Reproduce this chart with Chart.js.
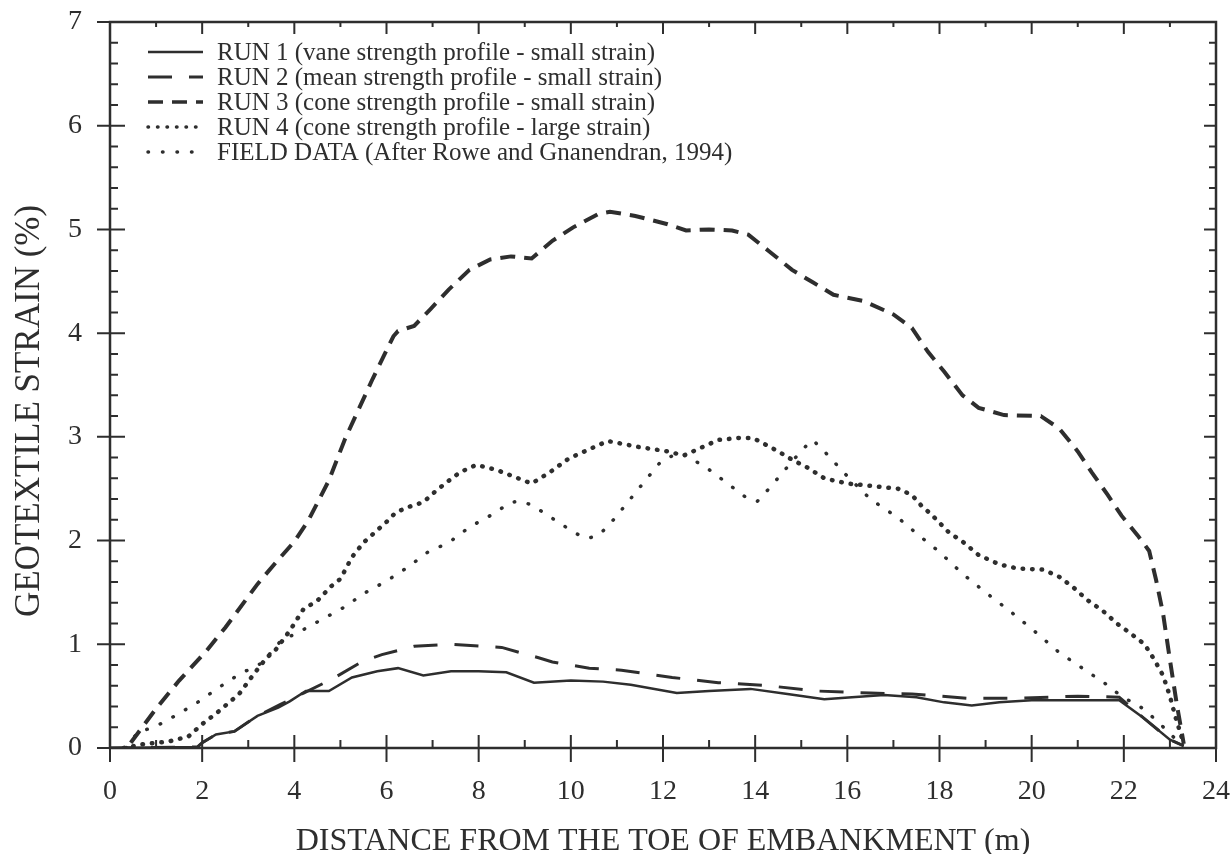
<!DOCTYPE html>
<html>
<head>
<meta charset="utf-8">
<script src="https://cdn.jsdelivr.net/npm/chart.js@4"></script>
<style>
  body { margin: 0; background: #fff; }
  canvas { display: block; }
</style>
</head>
<body>
<canvas id="chart" width="1230" height="854"></canvas>
<script>
// Data (x = distance in m, y = strain in %)
const run1X = [0, 1.9, 2.0, 2.3, 2.7, 3.2, 3.65, 3.9, 4.25, 4.75, 5.25, 5.8, 6.25, 6.8, 7.4, 8.0, 8.6, 9.2, 10.0, 10.7, 11.3, 12.3, 13.0, 13.9, 14.7, 15.5, 16.1, 16.8, 17.5, 18.1, 18.7, 19.3, 20.0, 21.0, 21.9, 22.4, 23.0, 23.3];
const run1Y = [0, 0.01, 0.05, 0.13, 0.16, 0.31, 0.39, 0.45, 0.55, 0.55, 0.68, 0.74, 0.77, 0.7, 0.74, 0.74, 0.73, 0.63, 0.65, 0.64, 0.61, 0.53, 0.55, 0.57, 0.52, 0.47, 0.49, 0.51, 0.49, 0.44, 0.41, 0.44, 0.46, 0.46, 0.46, 0.3, 0.08, 0.02];

const run2X = [0, 1.9, 2.0, 2.3, 2.7, 3.2, 3.7, 4.2, 4.8, 5.5, 5.9, 6.6, 7.4, 8.5, 9.3, 9.6, 10.4, 11.1, 12.2, 13.2, 14.3, 15.3, 16.5, 17.4, 18.6, 19.7, 21.0, 21.9, 22.4, 23.0, 23.3];
const run2Y = [0, 0.01, 0.05, 0.13, 0.16, 0.31, 0.42, 0.53, 0.66, 0.84, 0.9, 0.98, 1.0, 0.97, 0.87, 0.83, 0.77, 0.75, 0.68, 0.63, 0.6, 0.55, 0.53, 0.52, 0.48, 0.48, 0.5, 0.49, 0.3, 0.08, 0.02];

const run3X = [0.45, 1.0, 1.5, 2.1, 2.5, 3.2, 3.6, 4.0, 4.3, 4.75, 5.1, 5.7, 6.15, 6.25, 6.6, 6.95, 7.35, 7.8, 8.25, 8.7, 9.15, 9.6, 10.05, 10.6, 10.85, 11.4, 12.1, 12.5, 13.0, 13.5, 13.85, 14.3, 14.8, 15.25, 15.7, 16.35, 17.0, 17.4, 17.75, 18.1, 18.5, 18.85, 19.4, 20.2, 20.6, 21.0, 21.3, 21.65, 21.95, 22.3, 22.55, 22.7, 22.85, 23.0, 23.15, 23.3];
const run3Y = [0.05, 0.38, 0.65, 0.94, 1.16, 1.58, 1.79, 1.99, 2.19, 2.58, 2.98, 3.56, 3.97, 4.02, 4.07, 4.23, 4.42, 4.61, 4.71, 4.74, 4.72, 4.89, 5.02, 5.15, 5.17, 5.13, 5.05, 4.99, 5.0, 4.99, 4.95, 4.79, 4.61, 4.49, 4.37, 4.31, 4.18, 4.05, 3.82, 3.63, 3.4, 3.28, 3.21, 3.2, 3.08, 2.86, 2.66, 2.44, 2.24, 2.05, 1.9, 1.62, 1.3, 0.85, 0.42, 0.04];

const run4X = [0.3, 0.75, 1.25, 1.7, 2.0, 2.35, 2.8, 3.15, 3.4, 3.6, 3.9, 4.2, 4.5, 4.8, 5.0, 5.25, 5.5, 5.75, 6.0, 6.2, 6.45, 6.8, 7.05, 7.3, 7.6, 7.95, 8.4, 8.8, 9.15, 9.55, 9.95, 10.4, 10.8, 11.15, 11.5, 12.1, 12.45, 12.85, 13.2, 13.65, 13.95, 14.25, 14.5, 14.8, 15.15, 15.5, 16.0, 16.45, 17.1, 17.4, 17.6, 17.85, 18.2, 18.5, 18.85, 19.3, 19.7, 20.25, 20.6, 20.9, 21.2, 21.55, 21.85, 22.1, 22.45, 22.65, 22.85, 23.0, 23.12, 23.3];
const run4Y = [0, 0.04, 0.06, 0.11, 0.23, 0.35, 0.52, 0.73, 0.87, 0.95, 1.13, 1.34, 1.42, 1.56, 1.63, 1.84, 1.98, 2.08, 2.18, 2.27, 2.32, 2.37, 2.47, 2.56, 2.66, 2.73, 2.68, 2.61, 2.55, 2.66, 2.79, 2.88, 2.96, 2.93, 2.9, 2.86, 2.82, 2.9, 2.97, 2.99, 2.99, 2.92, 2.86, 2.78, 2.7, 2.6, 2.55, 2.53, 2.5, 2.44, 2.34, 2.24, 2.08, 1.99, 1.86, 1.77, 1.73, 1.72, 1.65, 1.55, 1.43, 1.32, 1.2, 1.12, 1.0, 0.86, 0.7, 0.5, 0.3, 0.04];

const fieldX = [0.35, 0.6, 1.0, 1.45, 1.9, 2.35, 2.8, 3.3, 3.7, 4.15, 4.6, 5.05, 5.55, 6.0, 6.45, 6.9, 7.35, 7.8, 8.25, 8.7, 8.95, 9.2, 9.65, 10.1, 10.35, 10.6, 10.85, 11.2, 11.6, 11.95, 12.3, 12.5, 12.95, 13.4, 13.85, 14.05, 14.3, 14.7, 15.05, 15.25, 15.5, 16.0, 16.5, 17.1, 17.5, 18.0, 18.5, 19.0, 19.5, 20.0, 20.6, 21.1, 21.6, 22.0, 22.3, 22.7, 23.25];
const fieldY = [0, 0.15, 0.21, 0.32, 0.44, 0.58, 0.71, 0.82, 1.03, 1.13, 1.24, 1.35, 1.5, 1.61, 1.74, 1.89, 1.98, 2.13, 2.24, 2.37, 2.38, 2.33, 2.2, 2.07, 2.02, 2.05, 2.16, 2.35, 2.57, 2.76, 2.84, 2.82, 2.7, 2.55, 2.4, 2.38, 2.5, 2.71, 2.89, 2.97, 2.86, 2.62, 2.4, 2.22, 2.07, 1.89, 1.68, 1.5, 1.33, 1.15, 0.92, 0.77, 0.62, 0.48, 0.42, 0.27, 0.03];

const labels = [
  'RUN 1 (vane strength profile - small strain)',
  'RUN 2 (mean strength profile - small strain)',
  'RUN 3 (cone strength profile - small strain)',
  'RUN 4 (cone strength profile - large strain)',
  'FIELD DATA (After Rowe and Gnanendran, 1994)'
];
const xTicks = [0, 2, 4, 6, 8, 10, 12, 14, 16, 18, 20, 22, 24];
const yTicks = [0, 1, 2, 3, 4, 5, 6, 7];
const yTitle = 'GEOTEXTILE STRAIN (%)';

const ink = '#2e2e2e';
const serif = "'Liberation Serif', 'Times New Roman', serif";

function pts(xs, ys) {
  return xs.map((x, i) => ({ x: x, y: ys[i] }));
}

function serie(label, xs, ys, width, dash, cap) {
  return {
    label: label,
    data: pts(xs, ys),
    borderColor: ink,
    borderWidth: width,
    borderDash: dash,
    borderCapStyle: cap,
    pointRadius: 0,
    tension: 0,
    fill: false
  };
}

// frame with inward ticks on all four sides, plus the vertical axis title
const frame = {
  id: 'frame',
  afterDraw(chart) {
    const { ctx, chartArea: a, scales: { x, y } } = chart;
    ctx.save();
    ctx.strokeStyle = ink;
    ctx.lineWidth = 2.5;
    ctx.strokeRect(a.left, a.top, a.right - a.left, a.bottom - a.top);
    ctx.lineWidth = 2;
    ctx.beginPath();
    for (let v = 0; v <= 24; v++) {
      const px = x.getPixelForValue(v);
      const major = v % 2 === 0;
      ctx.moveTo(px, a.bottom + (major ? 14 : 0));
      ctx.lineTo(px, a.bottom - (major ? 13 : 8));
      ctx.moveTo(px, a.top);
      ctx.lineTo(px, a.top + (major ? 12 : 5));
    }
    for (let i = 0; i <= 35; i++) {
      const py = y.getPixelForValue(i / 5);
      const major = i % 5 === 0;
      ctx.moveTo(a.left - (major ? 13 : 0), py);
      ctx.lineTo(a.left + (major ? 15 : 8), py);
      ctx.moveTo(a.right, py);
      ctx.lineTo(a.right - (major ? 12 : 7), py);
    }
    ctx.stroke();

    // y title sits a bit below the middle of the axis in the original
    ctx.translate(30, y.getPixelForValue(3.25));
    ctx.rotate(-Math.PI / 2);
    ctx.font = '35px ' + serif;
    ctx.fillStyle = ink;
    ctx.textAlign = 'center';
    ctx.textBaseline = 'middle';
    ctx.fillText(yTitle, 0, 0);
    ctx.restore();
  }
};

// legend in the upper left corner of the plot
const legendBox = {
  id: 'legendBox',
  afterDraw(chart) {
    const { ctx, chartArea: a } = chart;
    ctx.save();
    ctx.font = '25px ' + serif;
    ctx.textBaseline = 'middle';
    ctx.fillStyle = ink;
    chart.data.datasets.forEach((ds, i) => {
      const yy = a.top + 30 + i * 25;
      ctx.save();
      ctx.strokeStyle = ds.borderColor;
      ctx.lineWidth = Math.min(ds.borderWidth, 3.5);
      ctx.setLineDash(ds.borderDash);
      ctx.lineCap = ds.borderCapStyle;
      ctx.beginPath();
      ctx.moveTo(a.left + 38, yy);
      ctx.lineTo(a.left + 93, yy);
      ctx.stroke();
      ctx.restore();
      ctx.fillText(ds.label, a.left + 107, yy + 1);
    });
    ctx.restore();
  }
};

const ctx = document.getElementById('chart').getContext('2d');
new Chart(ctx, {
  type: 'line',
  data: {
    datasets: [
      serie(labels[0], run1X, run1Y, 2.5, [], 'butt'),
      serie(labels[1], run2X, run2Y, 3, [24, 17], 'butt'),
      serie(labels[2], run3X, run3Y, 4, [15, 9], 'butt'),
      serie(labels[3], run4X, run4Y, 4.5, [0.5, 9], 'round'),
      serie(labels[4], fieldX, fieldY, 3.5, [0.5, 14], 'round')
    ]
  },
  options: {
    responsive: false,
    animation: false,
    layout: { padding: { top: 22, right: 14 } },
    plugins: {
      legend: { display: false },
      tooltip: { enabled: false }
    },
    scales: {
      x: {
        type: 'linear',
        min: 0,
        max: 24,
        afterBuildTicks: s => { s.ticks = xTicks.map(v => ({ value: v })); },
        ticks: { color: ink, padding: 19, font: { family: serif, size: 28 } },
        grid: { display: false },
        border: { display: false },
        title: {
          display: true,
          text: 'DISTANCE FROM THE TOE OF EMBANKMENT (m)',
          color: ink,
          font: { family: serif, size: 32, lineHeight: 1 },
          padding: { top: 0, bottom: -4 }
        },
        afterFit: s => { s.height = 106; s.paddingLeft = 0; s.paddingRight = 0; }
      },
      y: {
        type: 'linear',
        min: 0,
        max: 7,
        afterBuildTicks: s => { s.ticks = yTicks.map(v => ({ value: v })); },
        ticks: { color: ink, padding: 20, font: { family: serif, size: 28 } },
        grid: { display: false },
        border: { display: false },
        afterFit: s => { s.width = 110; s.paddingTop = 0; s.paddingBottom = 0; }
      }
    }
  },
  plugins: [frame, legendBox]
});
</script>
</body>
</html>
